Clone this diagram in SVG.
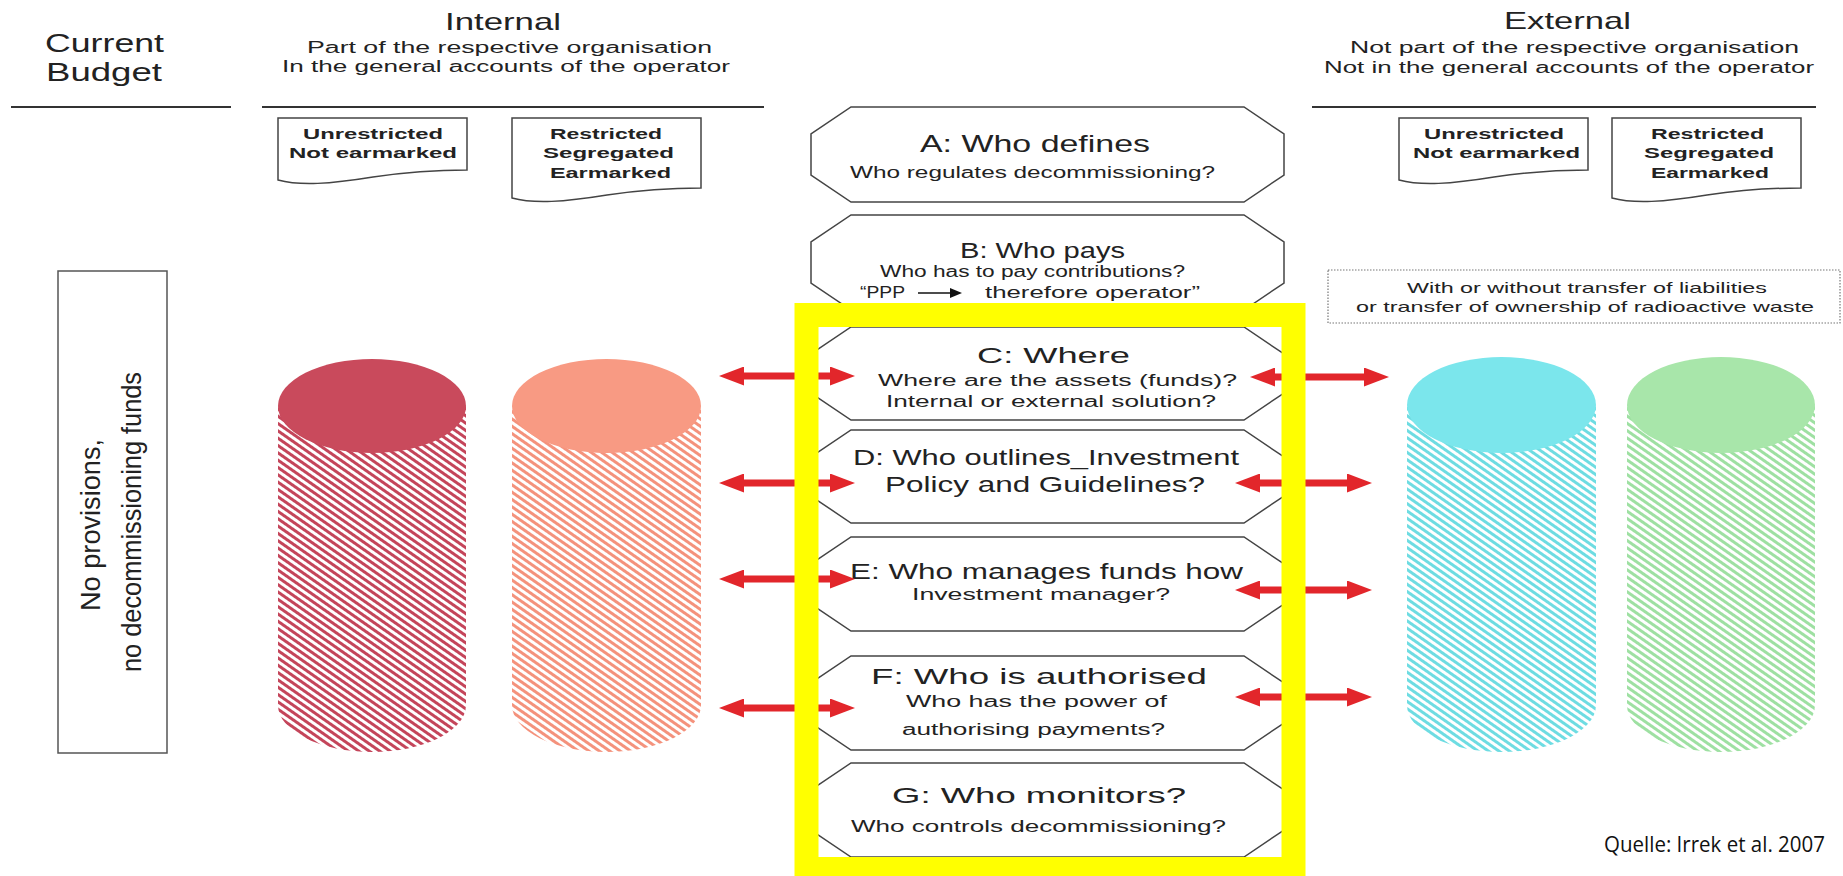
<svg xmlns="http://www.w3.org/2000/svg" width="1843" height="876" viewBox="0 0 1843 876">
<style>
.t{font-family:"Liberation Sans",Arial,sans-serif;fill:#222}
.h1{font-size:26px}
.h2{font-size:24px}
.sub{font-size:16px}
.db{font-size:14px;font-weight:bold}
.tt{font-size:22px}
.sm{font-size:16px}
.dt{font-size:15px}
.ln{stroke:#333;stroke-width:2}
.doc{fill:#fff;stroke:#444;stroke-width:1.5}
.oct{fill:#fff;stroke:#444;stroke-width:1.5}
.arr{stroke:#E2262B;stroke-width:7;fill:none;marker-start:url(#ah);marker-end:url(#ah)}
</style>
<defs>
<marker id="ah" viewBox="0 0 25 19" refX="0" refY="9.5" markerUnits="userSpaceOnUse" markerWidth="25" markerHeight="19" orient="auto-start-reverse">
<path d="M0,0 L25,9.5 L0,19 Z" fill="#E2262B"/>
</marker>
<marker id="bh" viewBox="0 0 12 10" refX="0" refY="5" markerUnits="userSpaceOnUse" markerWidth="12" markerHeight="10" orient="auto">
<path d="M0,0 L12,5 L0,10 Z" fill="#111"/>
</marker>
<pattern id="p1" patternUnits="userSpaceOnUse" width="6" height="6" patternTransform="rotate(35)"><rect width="6" height="3" fill="#C4455A"/></pattern>
<pattern id="p2" patternUnits="userSpaceOnUse" width="6" height="6" patternTransform="rotate(35)"><rect width="6" height="3" fill="#F4927C"/></pattern>
<pattern id="p3" patternUnits="userSpaceOnUse" width="6" height="6" patternTransform="rotate(35)"><rect width="6" height="3" fill="#6EDCE2"/></pattern>
<pattern id="p4" patternUnits="userSpaceOnUse" width="6" height="6" patternTransform="rotate(35)"><rect width="6" height="3" fill="#9EE0A2"/></pattern>
</defs>
<rect width="1843" height="876" fill="#fff"/>

<g id="header-current">
<text class="t h1" x="45" y="52" textLength="119" lengthAdjust="spacingAndGlyphs">Current</text>
<text class="t h1" x="46" y="81" textLength="116" lengthAdjust="spacingAndGlyphs">Budget</text>
<line class="ln" x1="11" y1="107" x2="231" y2="107"/>
</g>
<g id="header-internal">
<text class="t h2" x="445" y="30" textLength="116" lengthAdjust="spacingAndGlyphs">Internal</text>
<text class="t sub" x="307" y="53" textLength="405" lengthAdjust="spacingAndGlyphs">Part of the respective organisation</text>
<text class="t sub" x="282" y="72" textLength="448" lengthAdjust="spacingAndGlyphs">In the general accounts of the operator</text>
<line class="ln" x1="262" y1="107" x2="764" y2="107"/>
</g>
<g id="header-external">
<text class="t h2" x="1504" y="29" textLength="127" lengthAdjust="spacingAndGlyphs">External</text>
<text class="t sub" x="1350" y="53" textLength="449" lengthAdjust="spacingAndGlyphs">Not part of the respective organisation</text>
<text class="t sub" x="1324" y="73" textLength="490" lengthAdjust="spacingAndGlyphs">Not in the general accounts of the operator</text>
<line class="ln" x1="1312" y1="107" x2="1816" y2="107"/>
</g>

<g id="doc-int-unrestricted">
<path class="doc" d="M278,118 H467 V170 C430,170 400,173 373,177 C330,184 300,186 278,180 Z"/>
<text class="t db" x="303" y="139" textLength="140" lengthAdjust="spacingAndGlyphs">Unrestricted</text>
<text class="t db" x="289" y="158" textLength="168" lengthAdjust="spacingAndGlyphs">Not earmarked</text>
</g>
<g id="doc-int-restricted">
<path class="doc" d="M512,118 H701 V188 C664,188 634,191 607,195 C564,202 534,204 512,198 Z"/>
<text class="t db" x="550" y="139" textLength="112" lengthAdjust="spacingAndGlyphs">Restricted</text>
<text class="t db" x="543" y="158" textLength="131" lengthAdjust="spacingAndGlyphs">Segregated</text>
<text class="t db" x="550" y="178" textLength="121" lengthAdjust="spacingAndGlyphs">Earmarked</text>
</g>
<g id="doc-ext-unrestricted">
<path class="doc" d="M1399,118 H1588 V170 C1551,170 1521,173 1494,177 C1451,184 1421,186 1399,180 Z"/>
<text class="t db" x="1424" y="139" textLength="140" lengthAdjust="spacingAndGlyphs">Unrestricted</text>
<text class="t db" x="1413" y="158" textLength="167" lengthAdjust="spacingAndGlyphs">Not earmarked</text>
</g>
<g id="doc-ext-restricted">
<path class="doc" d="M1612,118 H1801 V188 C1764,188 1734,191 1707,195 C1664,202 1634,204 1612,198 Z"/>
<text class="t db" x="1651" y="139" textLength="113" lengthAdjust="spacingAndGlyphs">Restricted</text>
<text class="t db" x="1644" y="158" textLength="130" lengthAdjust="spacingAndGlyphs">Segregated</text>
<text class="t db" x="1651" y="178" textLength="118" lengthAdjust="spacingAndGlyphs">Earmarked</text>
</g>

<g id="no-provisions">
<rect x="58" y="271" width="109" height="482" fill="#fff" stroke="#555" stroke-width="1.5"/>
<text class="t" font-size="28" transform="translate(100,525) rotate(-90)" text-anchor="middle" textLength="172" lengthAdjust="spacingAndGlyphs">No provisions,</text>
<text class="t" font-size="28" transform="translate(141,522) rotate(-90)" text-anchor="middle" textLength="300" lengthAdjust="spacingAndGlyphs">no decommissioning funds</text>
</g>

<g id="transfer-note">
<rect x="1328" y="270" width="512" height="53" fill="#fff" stroke="#777" stroke-width="1.2" stroke-dasharray="1.5,1.5"/>
<text class="t dt" x="1407" y="293" textLength="360" lengthAdjust="spacingAndGlyphs">With or without transfer of liabilities</text>
<text class="t dt" x="1356" y="312" textLength="458" lengthAdjust="spacingAndGlyphs">or transfer of ownership of radioactive waste</text>
</g>

<g id="cyl-int-unrestricted">
<path d="M278,406 V705 A94,47 0 0 0 466,705 V406 Z" fill="url(#p1)"/>
<ellipse cx="372" cy="406" rx="94" ry="47" fill="#C94A5C"/>
</g>
<g id="cyl-int-restricted">
<path d="M512,406 V705 A94.5,47 0 0 0 701,705 V406 Z" fill="url(#p2)"/>
<ellipse cx="606.5" cy="406" rx="94.5" ry="47" fill="#F89A83"/>
</g>
<g id="cyl-ext-unrestricted">
<path d="M1407,406 V705 A94.5,47 0 0 0 1596,705 V406 Z" fill="url(#p3)"/>
<ellipse cx="1501.5" cy="405" rx="94.5" ry="48" fill="#7BE6EC"/>
</g>
<g id="cyl-ext-restricted">
<path d="M1627,406 V705 A94,47 0 0 0 1815,705 V406 Z" fill="url(#p4)"/>
<ellipse cx="1721" cy="405" rx="94" ry="48" fill="#A8E6AA"/>
</g>

<g id="q-a">
<path class="oct" d="M851,107 L1244,107 L1284,134 L1284,175 L1244,202 L851,202 L811,175 L811,134 Z"/>
<text class="t" font-size="24" x="920" y="152" textLength="230" lengthAdjust="spacingAndGlyphs">A: Who defines</text>
<text class="t sm" x="850" y="178" textLength="365" lengthAdjust="spacingAndGlyphs">Who regulates decommissioning?</text>
</g>
<g id="q-b">
<path class="oct" d="M851,215 L1244,215 L1284,242 L1284,283 L1244,310 L851,310 L811,283 L811,242 Z"/>
<text class="t tt" x="960" y="258" textLength="165" lengthAdjust="spacingAndGlyphs">B: Who pays</text>
<text class="t sm" x="880" y="277" textLength="305" lengthAdjust="spacingAndGlyphs">Who has to pay contributions?</text>
<text class="t sm" x="860" y="298" textLength="45" lengthAdjust="spacingAndGlyphs">“PPP</text>
<line x1="918" y1="293" x2="950" y2="293" stroke="#111" stroke-width="1.5" marker-end="url(#bh)"/>
<text class="t sm" x="985" y="298" textLength="215" lengthAdjust="spacingAndGlyphs">therefore operator”</text>
</g>
<g id="q-c">
<path class="oct" d="M851,327 L1244,327 L1284,354 L1284,393 L1244,420 L851,420 L811,393 L811,354 Z"/>
<text class="t tt" x="977" y="363" textLength="153" lengthAdjust="spacingAndGlyphs">C: Where</text>
<text class="t sm" x="878" y="386" textLength="359" lengthAdjust="spacingAndGlyphs">Where are the assets (funds)?</text>
<text class="t sm" x="886" y="407" textLength="330" lengthAdjust="spacingAndGlyphs">Internal or external solution?</text>
</g>
<g id="q-d">
<path class="oct" d="M851,430 L1244,430 L1284,457 L1284,496 L1244,523 L851,523 L811,496 L811,457 Z"/>
<text class="t tt" x="853" y="465" textLength="386" lengthAdjust="spacingAndGlyphs">D: Who outlines_Investment</text>
<text class="t tt" x="885" y="492" textLength="320" lengthAdjust="spacingAndGlyphs">Policy and Guidelines?</text>
</g>
<g id="q-e">
<path class="oct" d="M851,537 L1244,537 L1284,564 L1284,604 L1244,631 L851,631 L811,604 L811,564 Z"/>
<text class="t tt" x="850" y="579" textLength="393" lengthAdjust="spacingAndGlyphs">E: Who manages funds how</text>
<text class="t sm" x="912" y="600" textLength="258" lengthAdjust="spacingAndGlyphs">Investment manager?</text>
</g>
<g id="q-f">
<path class="oct" d="M851,656 L1244,656 L1284,683 L1284,723 L1244,750 L851,750 L811,723 L811,683 Z"/>
<text class="t tt" x="871" y="684" textLength="336" lengthAdjust="spacingAndGlyphs">F: Who is authorised</text>
<text class="t sm" x="906" y="707" textLength="261" lengthAdjust="spacingAndGlyphs">Who has the power of</text>
<text class="t sm" x="902" y="735" textLength="263" lengthAdjust="spacingAndGlyphs">authorising payments?</text>
</g>
<g id="q-g">
<path class="oct" d="M851,763 L1244,763 L1284,790 L1284,830 L1244,857 L851,857 L811,830 L811,790 Z"/>
<text class="t tt" x="892" y="803" textLength="294" lengthAdjust="spacingAndGlyphs">G: Who monitors?</text>
<text class="t sm" x="851" y="832" textLength="375" lengthAdjust="spacingAndGlyphs">Who controls decommissioning?</text>
</g>

<g id="connectors">
<line class="arr" x1="744" y1="376" x2="830" y2="376"/>
<line class="arr" x1="744" y1="483" x2="830" y2="483"/>
<line class="arr" x1="744" y1="579" x2="830" y2="579"/>
<line class="arr" x1="744" y1="708" x2="830" y2="708"/>
<line class="arr" x1="1275" y1="377" x2="1364" y2="377"/>
<line class="arr" x1="1260" y1="483" x2="1347" y2="483"/>
<line class="arr" x1="1260" y1="590" x2="1347" y2="590"/>
<line class="arr" x1="1260" y1="697" x2="1347" y2="697"/>
</g>

<g id="highlight">
<rect x="806.5" y="315" width="487" height="554" fill="none" stroke="#FFFF00" stroke-width="24"/>
</g>

<g id="source">
<text x="1604" y="852" font-family="'Open Sans','Noto Sans',sans-serif" font-size="22" fill="#111" textLength="221" lengthAdjust="spacingAndGlyphs">Quelle: Irrek et al. 2007</text>
</g>
</svg>
